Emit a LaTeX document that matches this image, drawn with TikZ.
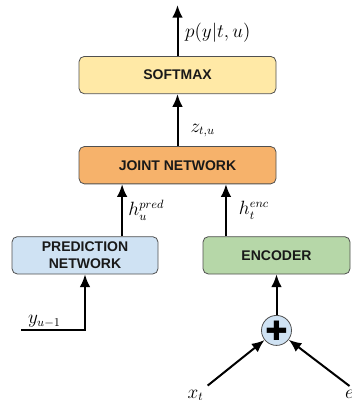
\documentclass[tikz,border=0pt]{standalone}
\usepackage{fontspec}
\setsansfont{Liberation Sans}
\newfontfamily\symfont{DejaVu Sans}
\usetikzlibrary{positioning, calc, arrows.meta}
\definecolor{softmaxfill}{HTML}{FFE9A6}
\definecolor{jointfill}{HTML}{F6B26B}
\definecolor{predfill}{HTML}{CFE2F3}
\definecolor{encfill}{HTML}{B6D7A8}
\definecolor{blockline}{HTML}{505050}
\tikzset{block/.style={draw=blockline, line width=0.6pt, rounded corners=4pt, minimum height=28pt, align=center, text=black!90, font=\sffamily\bfseries\fontsize{10.5}{12.5}\selectfont}}
\tikzset{flow/.style={-{Latex[length=9.5pt,width=8pt]}, line width=1.5pt}}
\tikzset{lbl/.style={inner sep=0pt, font=\fontsize{13.5}{16}\selectfont}}
\tikzset{sumnode/.style={circle, draw=blockline, line width=0.6pt, fill=predfill, minimum size=22.5pt, inner sep=0pt}}

\begin{document}
\begin{tikzpicture}[x=0.75pt, y=0.75pt]
      \useasboundingbox (0,0) rectangle (351,-400);

      \node[block, fill=softmaxfill, minimum width=147.75pt, anchor=north] (softmax) at (177.5,-56) {SOFTMAX};
      \coordinate (out) at ($(softmax.north)+(0,51)$);

      \node[block, fill=jointfill, minimum width=147.75pt, anchor=north] (joint) at ($(softmax.south)-(0,52)$) {JOINT NETWORK};
      \coordinate (jpin) at ($(joint.south west)!.22!(joint.south east)$);
      \coordinate (jein) at ($(joint.south west)!.745!(joint.south east)$);

      \node[block, fill=predfill, minimum width=109.5pt, anchor=north west] (pred) at ($(joint.south west)+(-67,-52)$) {PREDICTION\\NETWORK};
      \node[block, fill=encfill, minimum width=110.25pt, anchor=north east] (enc) at ($(joint.south east)+(74,-52)$) {ENCODER};

      \node[sumnode] (sum) at ($(enc.south)-(0,56)$) {\symfont\fontsize{20}{20}\selectfont ✚};
      \coordinate (yin) at ($(pred.south)+(-64,-56)$);

      \node[lbl, inner sep=3pt] (xt) at ($(sum)+(-81,-65)$) {$x_t$};
      \node[lbl, inner sep=3pt] (e) at ($(sum)+(73,-64)$) {$e$};

      \draw[flow] (softmax.north) -- (out) node[lbl, pos=.45, anchor=west, xshift=5pt] (py) {$p(y|t,u)$};
      \draw[flow] (joint) -- (softmax) node[lbl, pos=.3, anchor=west, xshift=9pt] (z) {$z_{t,u}$};
      \draw[flow] (pred.north -| jpin) -- (jpin) node[lbl, midway, anchor=west, xshift=4pt] (hpred) {$h_u^{pred}$};
      \draw[flow] (enc.north -| jein) -- (jein) node[lbl, midway, anchor=west, xshift=9pt] (henc) {$h_t^{enc}$};
      \draw[flow] (sum) -- (enc.south);
      \draw[flow] (yin) node[lbl, anchor=south west, xshift=4.5pt, yshift=1.5pt] (yprev) {$y_{u-1}$} -| (pred.south);
      \draw[flow] (xt.north east) -- (sum);
      \draw[flow] (e.north) -- (sum);
\end{tikzpicture}
\end{document}
